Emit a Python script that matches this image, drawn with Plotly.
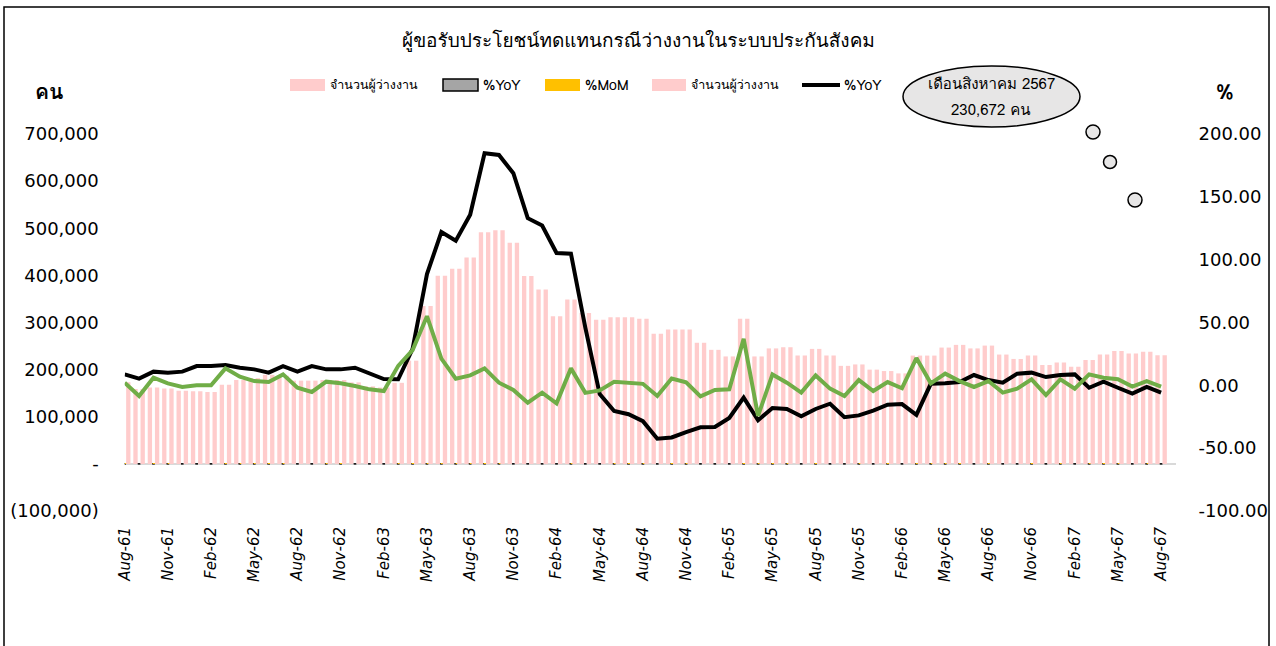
import plotly.graph_objects as go

# ---------------- data ----------------
categories = [
    "Aug-61", "Sep-61", "Oct-61", "Nov-61", "Dec-61",
    "Jan-62", "Feb-62", "Mar-62", "Apr-62", "May-62", "Jun-62", "Jul-62", "Aug-62", "Sep-62", "Oct-62", "Nov-62", "Dec-62",
    "Jan-63", "Feb-63", "Mar-63", "Apr-63", "May-63", "Jun-63", "Jul-63", "Aug-63", "Sep-63", "Oct-63", "Nov-63", "Dec-63",
    "Jan-64", "Feb-64", "Mar-64", "Apr-64", "May-64", "Jun-64", "Jul-64", "Aug-64", "Sep-64", "Oct-64", "Nov-64", "Dec-64",
    "Jan-65", "Feb-65", "Mar-65", "Apr-65", "May-65", "Jun-65", "Jul-65", "Aug-65", "Sep-65", "Oct-65", "Nov-65", "Dec-65",
    "Jan-66", "Feb-66", "Mar-66", "Apr-66", "May-66", "Jun-66", "Jul-66", "Aug-66", "Sep-66", "Oct-66", "Nov-66", "Dec-66",
    "Jan-67", "Feb-67", "Mar-67", "Apr-67", "May-67", "Jun-67", "Jul-67", "Aug-67",
]

unemployed = [
    173000, 159000, 162000, 160000, 155000, 154000, 152500, 168000, 178000, 182000, 189000, 187000,
    176600, 176600, 178000, 178000, 173000, 164500, 162000, 172000, 219000, 335000, 399000, 414000,
    438000, 491500, 496000, 469000, 398600, 370000, 313000, 349000, 320000, 306000, 311000, 311000,
    308000, 276000, 285000, 285000, 257000, 242000, 228000, 308000, 228000, 245000, 247500, 230000,
    244000, 230000, 208000, 211000, 200000, 197000, 192000, 229800, 229800, 246800, 252500, 245000,
    251000, 232000, 222700, 230000, 210000, 215000, 206000, 220600, 232000, 239700, 234000, 238000,
    230672,
]

yoy = [
    8.7, 5.3, 10.9, 10.1, 10.9, 15.3, 15.3, 16.1, 14.0, 12.7, 10.1, 15.3,
    10.9, 15.3, 12.7, 12.7, 14.0, 9.5, 5.0, 4.8, 29.0, 88.5, 122.0, 115.0,
    135.7, 184.7, 183.3, 168.8, 133.0, 127.2, 105.3, 104.8, 46.0, -7.0, -20.4, -23.0,
    -28.5, -42.5, -41.5, -37.2, -33.4, -33.2, -26.0, -9.8, -27.8, -18.0, -18.8, -24.7,
    -18.8, -14.6, -25.3, -23.9, -20.1, -15.4, -14.9, -23.5, 1.2, 1.6, 2.6, 8.2,
    4.2, 2.1, 9.3, 10.1, 6.6, 8.2, 8.7, -1.9, 2.9, -1.9, -6.6, -1.3,
    -5.8,
]

mom = [
    2.1, -8.5, 6.1, 1.6, -1.3, 0.0, 0.0, 13.5, 6.9, 3.4, 2.6, 8.7,
    -1.9, -5.3, 2.9, 1.6, -0.5, -3.2, -4.5, 15.5, 28.0, 55.0, 21.2, 5.3,
    7.9, 13.5, 2.1, -3.7, -13.8, -5.8, -14.3, 13.5, -6.0, -4.0, 2.8, 1.9,
    1.2, -8.5, 5.4, 2.4, -8.8, -3.7, -3.2, 37.0, -24.3, 8.7, 2.1, -5.8,
    7.9, -2.6, -8.5, 4.2, -4.5, 2.6, -2.3, 21.7, 1.6, 9.3, 3.4, -1.3,
    3.4, -5.8, -2.6, 4.8, -7.7, 4.8, -2.6, 8.7, 6.1, 4.8, -1.0, 3.4,
    -1.0,
]

left_tickvals = [-100000, 0, 100000, 200000, 300000, 400000, 500000, 600000, 700000]
left_ticktext = ["(100,000)", "-", "100,000", "200,000", "300,000", "400,000", "500,000", "600,000", "700,000"]
right_tickvals = [-100, -50, 0, 50, 100, 150, 200]
right_ticktext = ["-100.00", "-50.00", "0.00", "50.00", "100.00", "150.00", "200.00"]
x_ticks = categories[::3]

title_text = "ผู้ขอรับประโยชน์ทดแทนกรณีว่างงานในระบบประกันสังคม"
bar_name = "จำนวนผู้ว่างงาน"
callout_line1 = "เดือนสิงหาคม 2567"
callout_line2 = "230,672 คน"

# ---------------- layout helpers ----------------
W, H = 1276, 646
def px(x):
    return x / W
def py(y):
    return 1 - y / H

PINK = "#FFCCCC"
GREEN = "#70AD47"
FONT = "Tahoma, Loma, Garuda, 'Noto Sans Thai Looped', 'DejaVu Sans', 'Noto Sans Thai', sans-serif"
NUMFONT = "Tahoma, 'DejaVu Sans', sans-serif"

fig = go.Figure()

fig.add_bar(x=categories, y=unemployed, offset=-0.4, width=0.3,
            marker=dict(color=PINK, line=dict(width=0)), name=bar_name, showlegend=False)
fig.add_bar(x=categories, y=yoy, offset=-0.09, width=0.18,
            marker=dict(color="#A5A5A5", line=dict(color="black", width=1)), name="%YoY", showlegend=False)
fig.add_bar(x=categories, y=mom, offset=0.0, width=0.1,
            marker=dict(color="#FFC000", line=dict(width=0)), name="%MoM", showlegend=False)
fig.add_bar(x=categories, y=unemployed, offset=0.1, width=0.3,
            marker=dict(color=PINK, line=dict(width=0)), name=bar_name, showlegend=False)
fig.add_scatter(x=categories, y=yoy, yaxis="y2", mode="lines",
                line=dict(color="black", width=4), name="%YoY", showlegend=False)
fig.add_scatter(x=categories, y=mom, yaxis="y2", mode="lines",
                line=dict(color=GREEN, width=4), name="%MoM", showlegend=False)

x_dom = [px(124.7), px(1175.5)]
y_dom = [py(511), py(134)]

fig.update_layout(
    width=W, height=H,
    margin=dict(l=0, r=0, t=0, b=0),
    paper_bgcolor="white", plot_bgcolor="white",
    barmode="overlay",
    showlegend=False,
    font=dict(family=FONT, color="black"),
    xaxis=dict(
        domain=x_dom, range=[0, 73], type="category",
        tickmode="array", tickvals=x_ticks, ticktext=x_ticks,
        tickangle=-90, ticks="", showline=False, showgrid=False, zeroline=False,
        tickfont=dict(family=NUMFONT, size=15, style="italic", color="black"),
        ticklabelstandoff=12, automargin=False,
    ),
    yaxis=dict(
        domain=y_dom, range=[-100000, 700000],
        tickmode="array", tickvals=left_tickvals, ticktext=left_ticktext,
        ticks="", showline=False, showgrid=False,
        zeroline=True, zerolinecolor="#D9D9D9", zerolinewidth=2,
        tickfont=dict(family=NUMFONT, size=18, color="black"),
        ticklabelstandoff=25, automargin=False,
    ),
    yaxis2=dict(
        domain=y_dom, range=[-100, 200], overlaying="y", side="right", anchor="x",
        tickmode="array", tickvals=right_tickvals, ticktext=right_ticktext,
        ticks="", showline=False, showgrid=False, zeroline=False,
        tickfont=dict(family=NUMFONT, size=18, color="black"),
        ticklabelstandoff=22, automargin=False,
    ),
)

shapes = []
annotations = []

# outer chart border
shapes.append(dict(type="rect", xref="paper", yref="paper",
                   x0=px(4), x1=px(1269), y0=py(660), y1=py(7),
                   line=dict(color="black", width=1.5), fillcolor="rgba(0,0,0,0)", layer="below"))

# title
annotations.append(dict(text=title_text, x=0.5, y=py(40), xref="paper", yref="paper",
                        xanchor="center", yanchor="middle", showarrow=False,
                        font=dict(size=19, color="black", family=FONT)))

# axis unit labels
annotations.append(dict(text="<b>คน</b>", x=px(49), y=py(92), xref="paper", yref="paper",
                        xanchor="center", yanchor="middle", showarrow=False,
                        font=dict(size=21, color="black", family=FONT)))
annotations.append(dict(text="<b>%</b>", x=px(1225), y=py(92), xref="paper", yref="paper",
                        xanchor="center", yanchor="middle", showarrow=False,
                        font=dict(size=20, color="black", family=FONT)))

# manual legend
leg_y = 85
def leg_box(x0, x1, fill, line_color=None):
    shapes.append(dict(type="rect", xref="paper", yref="paper",
                       x0=px(x0), x1=px(x1), y0=py(leg_y + 6), y1=py(leg_y - 6),
                       fillcolor=fill,
                       line=dict(color=line_color if line_color else fill, width=1.5 if line_color else 0)))
def leg_text(x, t, size):
    annotations.append(dict(text=t, x=px(x), y=py(leg_y), xref="paper", yref="paper",
                            xanchor="left", yanchor="middle", showarrow=False,
                            font=dict(size=size, color="black", family=FONT)))

leg_box(290, 325, PINK)
leg_text(328, bar_name, 12.5)
leg_box(443, 478, "#A5A5A5", "black")
leg_text(481, "%YoY", 14)
leg_box(545, 580, "#FFC000")
leg_text(583, "%MoM", 14)
leg_box(652, 686, PINK)
leg_text(689, bar_name, 12.5)
shapes.append(dict(type="line", xref="paper", yref="paper",
                   x0=px(802), x1=px(840), y0=py(leg_y), y1=py(leg_y),
                   line=dict(color="black", width=4)))
leg_text(842, "%YoY", 14)

# callout ellipse and bubbles
CALLOUT_FILL = "#E7E6E6"
shapes.append(dict(type="circle", xref="paper", yref="paper",
                   x0=px(903), x1=px(1080), y0=py(127), y1=py(66),
                   fillcolor=CALLOUT_FILL, line=dict(color="black", width=1.5)))
for cx, cy, r in [(1093, 132, 7), (1110, 162, 6.5), (1135, 200, 7)]:
    shapes.append(dict(type="circle", xref="paper", yref="paper",
                       x0=px(cx - r), x1=px(cx + r), y0=py(cy + r), y1=py(cy - r),
                       fillcolor=CALLOUT_FILL, line=dict(color="black", width=1.5)))
annotations.append(dict(text=callout_line1, x=px(991), y=py(84), xref="paper", yref="paper",
                        xanchor="center", yanchor="middle", showarrow=False,
                        font=dict(size=15, color="black", family=FONT)))
annotations.append(dict(text=callout_line2, x=px(991), y=py(110), xref="paper", yref="paper",
                        xanchor="center", yanchor="middle", showarrow=False,
                        font=dict(size=15, color="black", family=FONT)))

fig.update_layout(shapes=shapes, annotations=annotations)

fig.write_html("out.html", config={"displayModeBar": False},
               post_script="document.body.style.margin='0px';")
